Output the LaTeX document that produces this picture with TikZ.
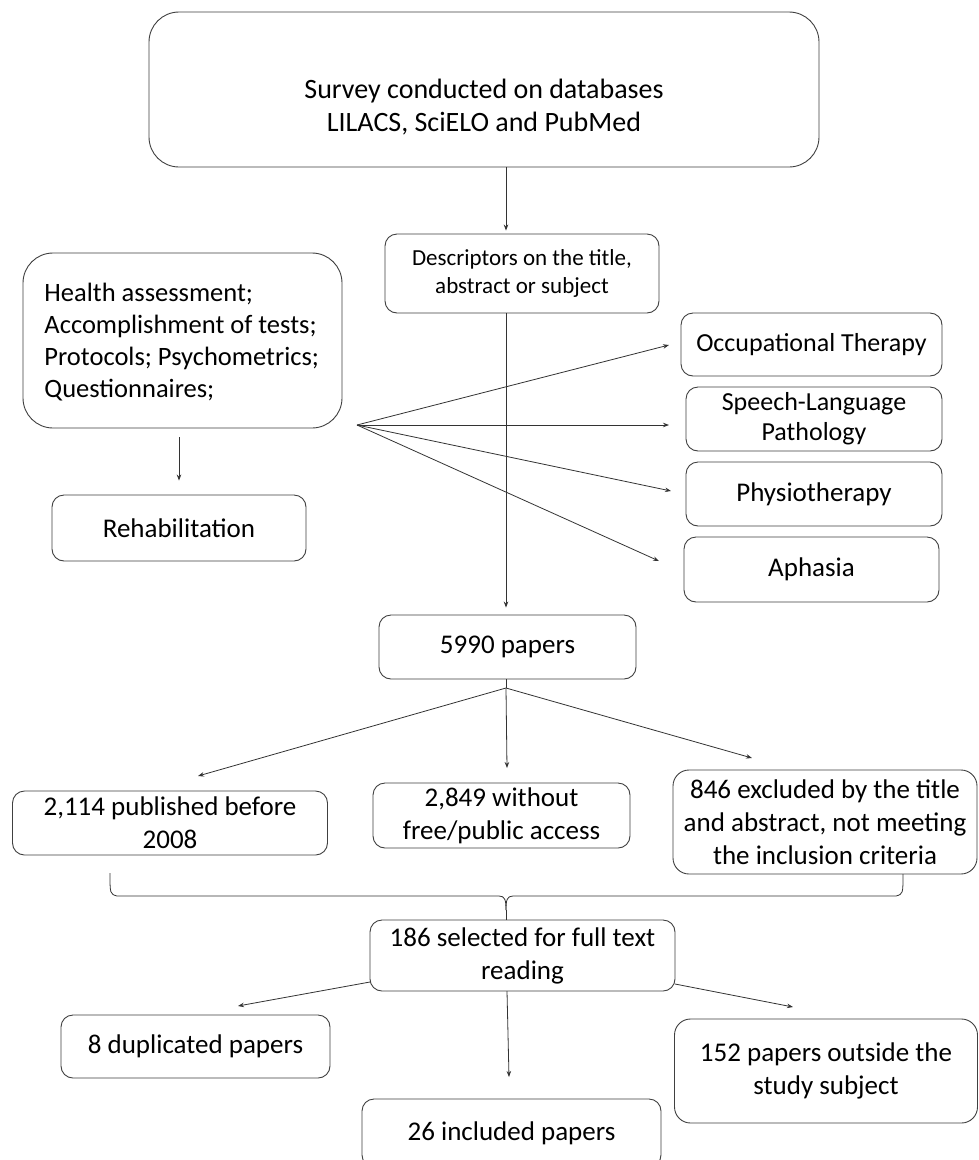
\documentclass[tikz,border=0pt]{standalone}
\usepackage{fontspec}
\setmainfont{Carlito}
\usetikzlibrary{arrows.meta,calc}
\begin{document}
\begin{tikzpicture}[x=1pt,y=-1pt,
  line width=0.9pt,
  box/.style={draw=black!75, rounded corners=12pt, inner sep=0pt, align=center,
    font=\fontsize{27}{33}\selectfont},
  bigbox/.style={box, rounded corners=30pt},
  midbox/.style={box, rounded corners=16pt},
  txt/.style={inner sep=0pt, align=center, font=\fontsize{27}{33}\selectfont},
  arr/.style={draw=black!80, line width=0.8pt, -{Stealth[length=6pt,width=4.5pt]}},
  ln/.style={draw=black!80, line width=0.8pt}
]
\useasboundingbox (0,0) rectangle (978,1160);
\fill[white] (0,0) rectangle (978,1160);

% nodes
\node[bigbox, minimum width=670, minimum height=155] (top) at (484,89.5) {};
\node[txt, font=\fontsize{28}{33}\selectfont] (topt) at (484,107) {Survey conducted on databases\\ LILACS, SciELO and PubMed};

\node[box, minimum width=274, minimum height=79, font=\fontsize{23}{28}\selectfont] (desc) at (522,273.5)
  {Descriptors on the title,\\abstract or subject};

\node[bigbox, minimum width=319, minimum height=175] (health) at (182.5,340.5) {};
\node[txt, align=left, anchor=west, font=\fontsize{26.5}{32}\selectfont] (healtht) at (44,342)
  {Health assessment;\\Accomplishment of tests;\\Protocols; Psychometrics;\\Questionnaires;};

\node[box, minimum width=261, minimum height=63, font=\fontsize{26}{30}\selectfont] (occ) at (811.5,344.5) {Occupational Therapy};
\node[box, minimum width=256, minimum height=64, font=\fontsize{26}{30}\selectfont] (speech) at (814,419) {Speech-Language\\Pathology};
\node[box, minimum width=256, minimum height=64] (physio) at (814,494) {Physiotherapy};
\node[box, minimum width=255, minimum height=65] (aphasia) at (811.5,569.5) {Aphasia};

\node[box, minimum width=254, minimum height=66] (rehab) at (179,528) {Rehabilitation};

\node[box, minimum width=257, minimum height=64] (p5990) at (507.5,647) {5990 papers};

\node[box, minimum width=315, minimum height=64] (b2114) at (170,823) {2,114 published before\\2008};
\node[box, minimum width=257, minimum height=65] (b2849) at (501.5,815.5) {2,849 without\\free/public access};
\node[midbox, minimum width=304, minimum height=104] (b846) at (825,822) {846 excluded by the title\\and abstract, not meeting\\the inclusion criteria};

\node[box, minimum width=305, minimum height=71] (b186) at (522.5,955.5) {186 selected for full text\\reading};

\node[box, minimum width=269, minimum height=63] (dup) at (195.5,1046.5) {8 duplicated papers};
\node[box, minimum width=299, minimum height=68] (incl) at (511.5,1133) {26 included papers};
\node[midbox, minimum width=303, minimum height=104] (b152) at (826,1071) {152 papers outside the\\study subject};

% coordinates
\coordinate (spine) at (506,0);
\coordinate (fan) at (357,425);
\coordinate (eocc) at (669,345);
\coordinate (esp) at (669,425);
\coordinate (eph) at (671,491);
\coordinate (eaph) at (659,561);
\coordinate (fan2) at (506,688);
\coordinate (e2114) at (198,776);
\coordinate (e2849) at (507,768);
\coordinate (e846) at (752,758);
\coordinate (bl) at (110,873);
\coordinate (br) at (903,874);
\coordinate (cusp) at (506,910);
\coordinate (s186l) at (370,982);
\coordinate (s186r) at (675,984);
\coordinate (edup) at (238,1006);
\coordinate (e152) at (793,1007);
\coordinate (s186m) at (507,991);
\coordinate (eincl) at (509,1077);

% connectors
\draw[arr, shorten >=3pt] (top.south -| spine) -- (desc.north -| spine);
\draw[arr, shorten >=7pt] (desc.south -| spine) -- (p5990.north -| spine);
\draw[arr, shorten <=9pt, shorten >=14pt] (health.south -| rehab.north) -- (rehab.north);

\draw[arr] (fan) -- (eocc);
\draw[arr] (fan) -- (esp);
\draw[arr] (fan) -- (eph);
\draw[arr] (fan) -- (eaph);

\draw[arr] (fan2) -- (e2114);
\draw[arr] (fan2) -- (e2849);
\draw[arr] (fan2) -- (e846);
\draw[ln] (p5990.south -| fan2) -- (fan2);

% brace
\draw[ln] (bl) .. controls (110,894) .. (117,896) -- (499,896)
  .. controls (505,896) and (506,900) .. (cusp);
\draw[ln] (br) .. controls (903,894) .. (896,896) -- (513,896)
  .. controls (507,896) and (506,900) .. (cusp);
\draw[ln] (cusp) -- (b186.north -| cusp);

\draw[arr] (s186l) -- (edup);
\draw[arr] (s186r) -- (e152);
\draw[arr] (s186m) -- (eincl);
\end{tikzpicture}
\end{document}
